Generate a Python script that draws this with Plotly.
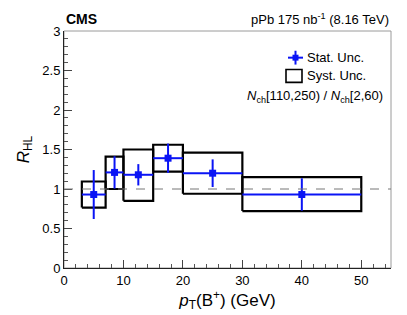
import plotly.graph_objects as go

# Data
bin_lo = [3, 7, 10, 15, 20, 30]
bin_hi = [7, 10, 15, 20, 30, 50]
x_center = [5.0, 8.5, 12.5, 17.5, 25.0, 40.0]
r_hl = [0.93, 1.21, 1.18, 1.39, 1.20, 0.93]
stat_unc = [0.31, 0.205, 0.135, 0.185, 0.175, 0.205]
syst_up = [1.095, 1.41, 1.50, 1.56, 1.46, 1.15]
syst_dn = [0.765, 1.00, 0.85, 1.22, 0.94, 0.72]

FONT = "Liberation Sans, Arial, Helvetica, sans-serif"
BLUE = "#0a14f5"

fig = go.Figure()

# Systematic boxes
for lo, hi, up, dn in zip(bin_lo, bin_hi, syst_up, syst_dn):
    fig.add_trace(go.Scatter(
        x=[lo, hi, hi, lo, lo], y=[dn, dn, up, up, dn],
        mode="lines", line=dict(color="black", width=2.2),
        showlegend=False, hoverinfo="skip"))

# Statistical uncertainties
half_w = [(h - l) / 2 for l, h in zip(bin_lo, bin_hi)]
fig.add_trace(go.Scatter(
    x=x_center, y=r_hl, mode="markers",
    marker=dict(symbol="square", size=7, color=BLUE),
    error_x=dict(type="data", array=half_w, color=BLUE, thickness=2, width=0),
    error_y=dict(type="data", array=stat_unc, color=BLUE, thickness=2, width=0),
    showlegend=False))

# Reference line at 1
fig.add_shape(type="line", xref="paper", yref="y", x0=0, x1=1, y0=1, y1=1,
              line=dict(color="#777777", width=1, dash="dash"))

# Frame (top/right grey)
fig.add_shape(type="rect", xref="paper", yref="paper", x0=0, x1=1, y0=0, y1=1,
              line=dict(color="#9a9a9a", width=1), layer="below")

# Legend (manual)
fig.add_shape(type="line", xref="paper", yref="paper",
              x0=(288-64)/327, x1=(303-64)/327, y0=(271-58)/240, y1=(271-58)/240,
              line=dict(color=BLUE, width=2))
fig.add_shape(type="line", xref="paper", yref="paper",
              x0=(295.5-64)/327, x1=(295.5-64)/327, y0=(271-51)/240, y1=(271-65)/240,
              line=dict(color=BLUE, width=2))
fig.add_shape(type="rect", xref="paper", yref="paper",
              x0=(292.5-64)/327, x1=(298.5-64)/327, y0=(271-55)/240, y1=(271-61)/240,
              line=dict(width=0), fillcolor=BLUE)
fig.add_shape(type="rect", xref="paper", yref="paper",
              x0=(286-64)/327, x1=(302-64)/327, y0=(271-70)/240, y1=(271-83)/240,
              line=dict(color="black", width=1.6))

annots = [
    dict(text="Stat. Unc.", x=305, y=58, xanchor="left"),
    dict(text="Syst. Unc.", x=305, y=76, xanchor="left"),
    dict(text="<i>N</i><sub>ch</sub>[110,250) / <i>N</i><sub>ch</sub>[2,60)", x=385, y=97, xanchor="right"),
]
for a in annots:
    fig.add_annotation(text=a["text"], xref="paper", yref="paper",
                       x=(a["x"]-64)/327, y=(271-a["y"])/240,
                       xanchor=a["xanchor"], yanchor="middle", showarrow=False,
                       font=dict(family=FONT, size=13, color="black"))

fig.add_annotation(text="<b>CMS</b>", xref="paper", yref="paper", x=0, y=(271-19)/240,
                   xanchor="left", yanchor="middle", showarrow=False,
                   font=dict(family=FONT, size=14, color="black"))
fig.add_annotation(text="pPb 175 nb<sup>-1</sup> (8.16 TeV)", xref="paper", yref="paper",
                   x=1, y=(271-19)/240, xanchor="right", yanchor="middle", showarrow=False,
                   font=dict(family=FONT, size=13, color="black"))

fig.update_xaxes(range=[0, 55], tick0=0, dtick=10, ticks="inside", ticklen=8,
                 tickcolor="#444", showline=True, linecolor="#222", linewidth=1,
                 showgrid=False, zeroline=False,
                 minor=dict(dtick=2, ticks="inside", ticklen=4, tickcolor="#555", showgrid=False),
                 tickfont=dict(family=FONT, size=13, color="black"),
                 title=dict(text="<i>p</i><sub>T</sub>(B<sup>+</sup>) (GeV)",
                            font=dict(family=FONT, size=17, color="black"), standoff=4))
fig.update_yaxes(range=[0, 3], tick0=0, dtick=0.5, ticks="inside", ticklen=8,
                 tickcolor="#444", showline=True, linecolor="#222", linewidth=1,
                 showgrid=False, zeroline=False,
                 minor=dict(dtick=0.1, ticks="inside", ticklen=4, tickcolor="#555", showgrid=False),
                 tickfont=dict(family=FONT, size=13, color="black"),
                 title=dict(text="<i>R</i><sub>HL</sub>",
                            font=dict(family=FONT, size=17, color="black"), standoff=8))

fig.update_layout(width=407, height=315, margin=dict(l=64, r=16, t=31, b=44),
                  plot_bgcolor="white", paper_bgcolor="white", showlegend=False,
                  font=dict(family=FONT))

fig.write_html("out.html", config={"displayModeBar": False},
               post_script="document.body.style.margin='0';document.body.style.overflow='hidden';")
